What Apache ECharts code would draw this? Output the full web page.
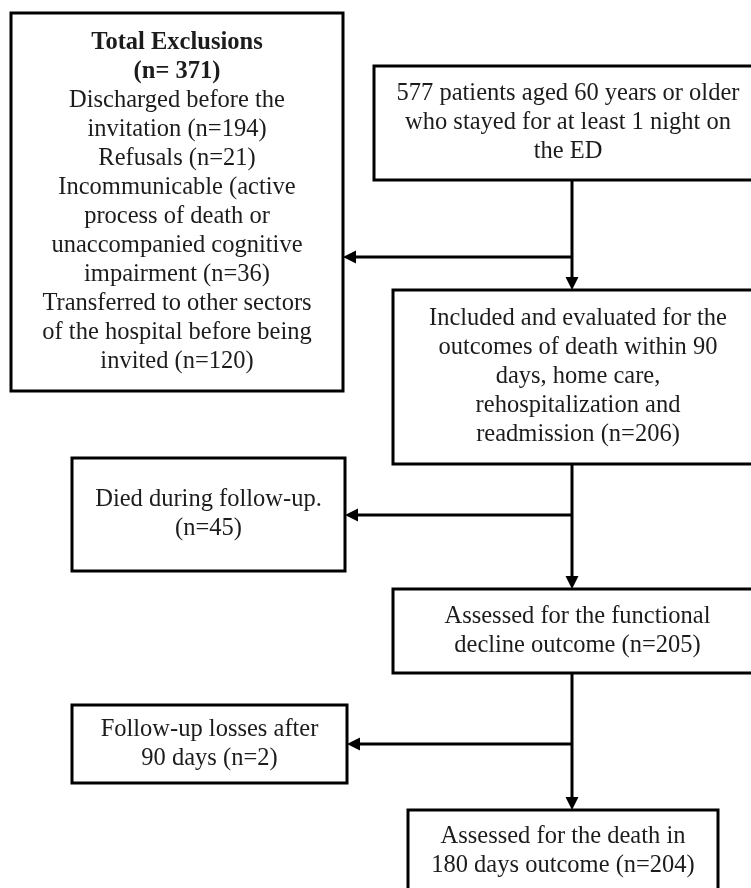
<!DOCTYPE html>
<html><head><meta charset="utf-8">
<script src="https://cdn.jsdelivr.net/npm/echarts@6/dist/echarts.min.js"></script>
<style>html,body{margin:0;padding:0;background:#fff}#c{width:751px;height:888px}</style>
</head><body><div id="c"></div>
<script>
// ---- content (texts and counts) ----
const boxNames = ['exclusions','eligible','included','died','functional','lost','final'];
const boxLines = [
  ['Total Exclusions','(n= 371)','Discharged before the','invitation (n=194)','Refusals (n=21)','Incommunicable (active','process of death or','unaccompanied cognitive','impairment (n=36)','Transferred to other sectors','of the hospital before being','invited (n=120)'],
  ['577 patients aged 60 years or older','who stayed for at least 1 night on','the ED'],
  ['Included and evaluated for the','outcomes of death within 90','days, home care,','rehospitalization and','readmission (n=206)'],
  ['Died during follow-up.','(n=45)'],
  ['Assessed for the functional','decline outcome (n=205)'],
  ['Follow-up losses after','90 days (n=2)'],
  ['Assessed for the death in','180 days outcome (n=204)']
];
const boldLineCount = [2,0,0,0,0,0,0];
const counts = [371,577,206,45,205,2,204];

// ---- layout (page pixel space mapped onto hidden axes) ----
const boxRects = [
  [11,13,343,391],
  [374,66,762,180],
  [393,290,763,464],
  [72,458,345,571],
  [393,589,762,673],
  [72,705,347,783],
  [408,810,718,892]
];
const trunkX = 572;
const connectors = [
  [[trunkX,180],[trunkX,290]],
  [[trunkX,257],[343,257]],
  [[trunkX,464],[trunkX,589]],
  [[trunkX,515],[345,515]],
  [[trunkX,673],[trunkX,810]],
  [[trunkX,744],[347,744]]
];

const FONT = '"Liberation Serif", "DejaVu Serif", serif';
const FS = 24.5;
const LH = 29;
const INK = '#1c1c1c';

const chart = echarts.init(document.getElementById('c'), null, {renderer:'canvas'});

function boxText(i){
  return boxLines[i].map((l,k)=> (k < boldLineCount[i] ? '{b|' : '{r|') + l + '}').join('\n');
}
const rich = {
  b:{fontFamily:FONT,fontSize:FS,fontWeight:'bold',lineHeight:LH,fill:INK,color:INK},
  r:{fontFamily:FONT,fontSize:FS,lineHeight:LH,fill:INK,color:INK}
};

chart.setOption({
  animation:false,
  backgroundColor:'#ffffff',
  grid:{left:0,right:0,top:0,bottom:0},
  xAxis:{type:'value',min:0,max:751,show:false},
  yAxis:{type:'value',min:0,max:888,inverse:true,show:false},
  series:[
    {
      type:'custom',
      coordinateSystem:'cartesian2d',
      clip:false,
      data: boxRects.map((r,i)=>({name:boxNames[i], value:[r[0],r[1],r[2],r[3],counts[i]]})),
      renderItem:function(params, api){
        const p0 = api.coord([api.value(0), api.value(1)]);
        const p1 = api.coord([api.value(2), api.value(3)]);
        const i = params.dataIndex;
        return {
          type:'group',
          children:[
            {type:'rect', shape:{x:p0[0],y:p0[1],width:p1[0]-p0[0],height:p1[1]-p0[1]},
             style:{fill:'#ffffff',stroke:'#000000',lineWidth:3}},
            {type:'text', style:{x:(p0[0]+p1[0])/2, y:(p0[1]+p1[1])/2, text:boxText(i), rich:rich,
              align:'center', verticalAlign:'middle', fontFamily:FONT, fontSize:FS, fill:INK}}
          ]
        };
      }
    },
    {
      type:'custom',
      coordinateSystem:'cartesian2d',
      clip:false,
      data: connectors.map(c=>[c[0][0],c[0][1],c[1][0],c[1][1]]),
      renderItem:function(params, api){
        const a = api.coord([api.value(0), api.value(1)]);
        const b = api.coord([api.value(2), api.value(3)]);
        const dx = b[0]-a[0], dy = b[1]-a[1];
        const len = Math.sqrt(dx*dx+dy*dy);
        const ux = dx/len, uy = dy/len;
        const L = 13, W = 6.5;
        const base = [b[0]-ux*L, b[1]-uy*L];
        return {
          type:'group',
          children:[
            {type:'line', shape:{x1:a[0],y1:a[1],x2:base[0],y2:base[1]}, style:{stroke:'#000',lineWidth:3}},
            {type:'polygon', shape:{points:[[b[0],b[1]],[base[0]-uy*W,base[1]+ux*W],[base[0]+uy*W,base[1]-ux*W]]},
             style:{fill:'#000'}}
          ]
        };
      }
    }
  ]
});
</script></body></html>
